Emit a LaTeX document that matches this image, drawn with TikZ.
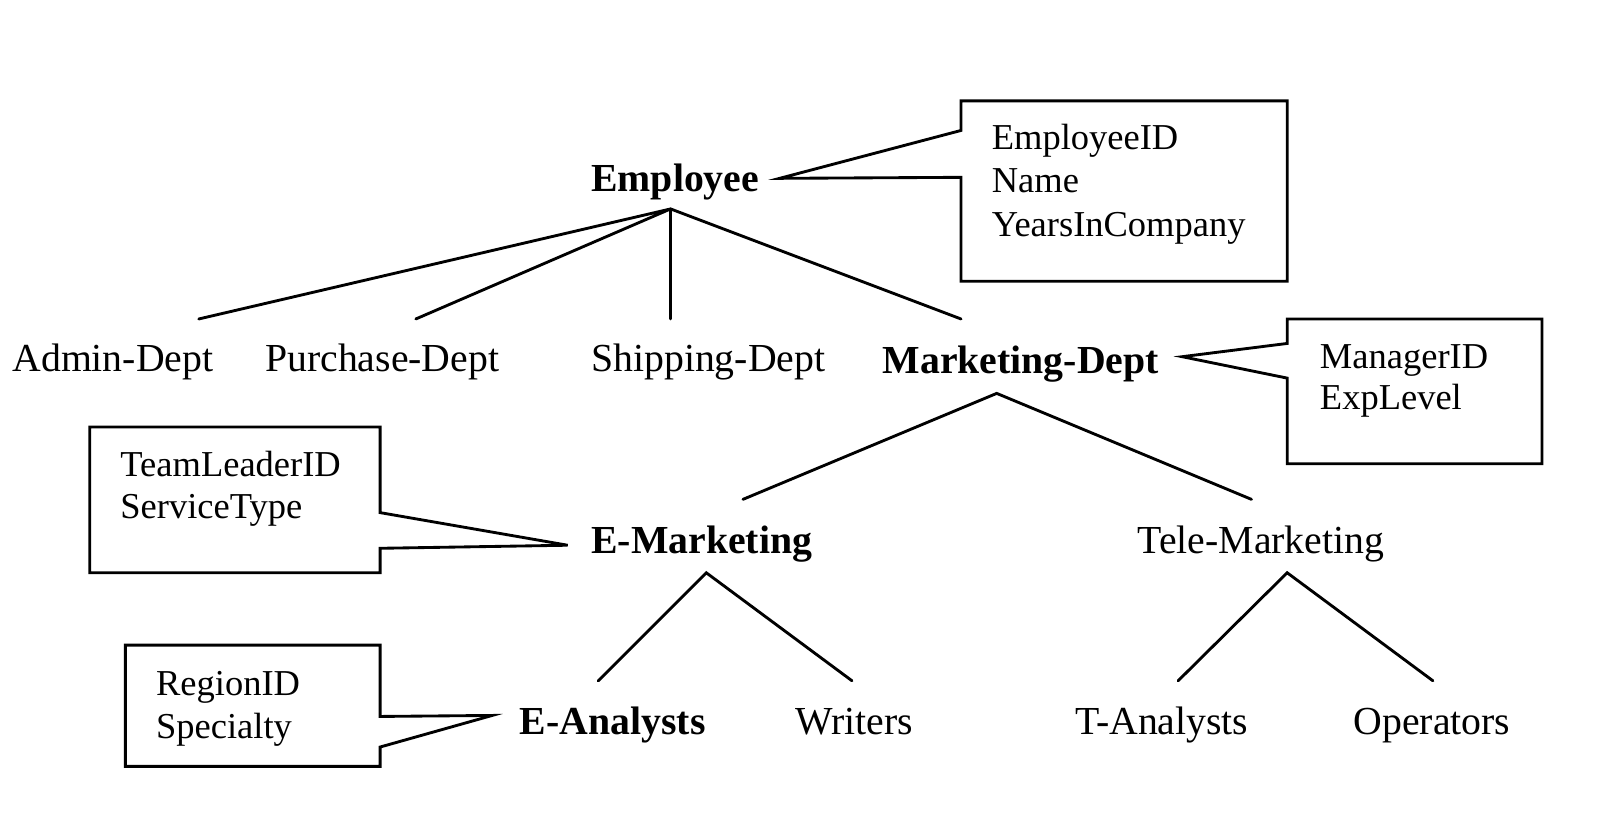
\documentclass[tikz,border=0pt]{standalone}
\usepackage{fontspec}
\setmainfont{Liberation Serif}
\begin{document}
\begin{tikzpicture}[x=1pt,y=-1pt,
  lbl/.style={anchor=base west,inner sep=0pt,font=\fontsize{39}{42}\selectfont},
  blbl/.style={lbl,font=\fontsize{39}{42}\selectfont\bfseries},
  attr/.style={anchor=base west,inner sep=0pt,font=\fontsize{35.8}{40}\selectfont},
  edge/.style={line width=2.8pt,line cap=round},
  callout/.style={line width=2.8pt,line join=miter}]
\useasboundingbox (0,0) rectangle (1568,799);
% tree nodes
\node[blbl] (emp) at (580,188) {Employee};
\node[lbl] (admin) at (12,365) {Admin-Dept};
\node[lbl] (purch) at (260,365) {Purchase-Dept};
\node[lbl] (ship) at (580,365) {Shipping-Dept};
\node[blbl] (mkt) at (866,366) {Marketing-Dept};
\node[blbl] (emkt) at (580,543) {E-Marketing};
\node[lbl] (tmkt) at (1116,543) {Tele-Marketing};
\node[blbl] (eana) at (510,721) {E-Analysts};
\node[lbl] (writ) at (780,721) {Writers};
\node[lbl] (tana) at (1055,721) {T-Analysts};
\node[lbl] (oper) at (1328,721) {Operators};
% connector end points
\coordinate (emp-b) at (658,205);
\coordinate (admin-t) at (195,313);
\coordinate (purch-t) at (408,313);
\coordinate (ship-t) at (658,313);
\coordinate (mkt-t) at (943,313);
\coordinate (mkt-b) at (978,386);
\coordinate (emkt-t) at (729,490);
\coordinate (tmkt-t) at (1228,490);
\coordinate (emkt-b) at (693,562);
\coordinate (eana-t) at (587,668);
\coordinate (writ-t) at (836,668);
\coordinate (tmkt-b) at (1263,562);
\coordinate (tana-t) at (1156,668);
\coordinate (oper-t) at (1406,668);
\draw[edge] (admin-t) -- (emp-b) -- (purch-t);
\draw[edge] (emp-b) -- (ship-t);
\draw[edge] (emp-b) -- (mkt-t);
\draw[edge] (emkt-t) -- (mkt-b) -- (tmkt-t);
\draw[edge] (eana-t) -- (emkt-b) -- (writ-t);
\draw[edge] (tana-t) -- (tmkt-b) -- (oper-t);
% callouts
\draw[callout] (943,128) -- (943,99) -- (1263,99) -- (1263,276) -- (943,276) -- (943,174) -- (765,175) -- cycle;
\node[attr] (a1) at (973,147) {EmployeeID};
\node[attr] (a2) at (973,189) {Name};
\node[attr] (a3) at (973,232) {YearsInCompany};
\draw[callout] (1263,337) -- (1263,313) -- (1513,313) -- (1513,455) -- (1263,455) -- (1263,371) -- (1160,350) -- cycle;
\node[attr] (b1) at (1295,362) {ManagerID};
\node[attr] (b2) at (1295,402) {ExpLevel};
\draw[callout] (373,503) -- (373,419) -- (88,419) -- (88,562) -- (373,562) -- (373,538) -- (557,535) -- cycle;
\node[attr] (c1) at (118,468) {TeamLeaderID};
\node[attr] (c2) at (118,509) {ServiceType};
\draw[callout] (373,703) -- (373,633) -- (123,633) -- (123,752) -- (373,752) -- (373,733) -- (483,702) -- cycle;
\node[attr] (d1) at (153,682) {RegionID};
\node[attr] (d2) at (153,725) {Specialty};
\end{tikzpicture}
\end{document}
